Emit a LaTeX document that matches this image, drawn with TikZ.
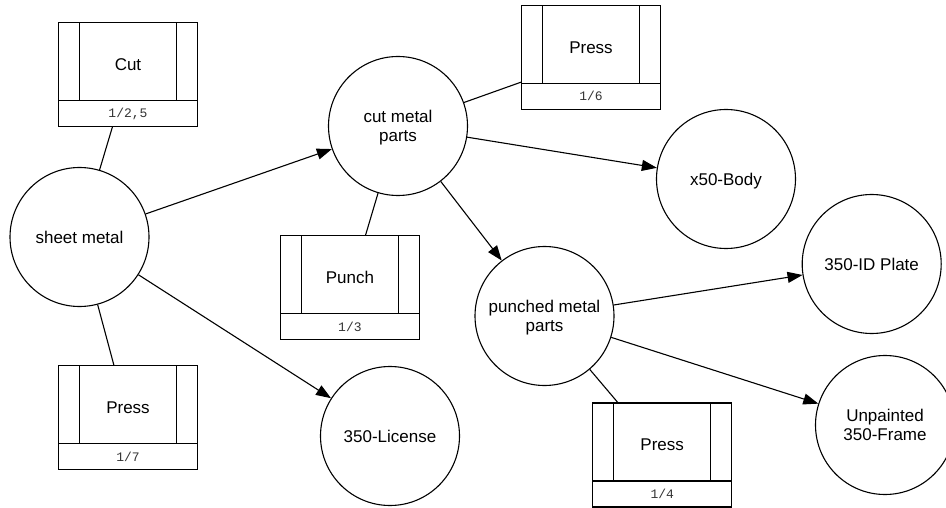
\documentclass[tikz,border=0pt]{standalone}
\usepackage{fontspec}
\setmainfont{Liberation Sans}
\setmonofont{Liberation Mono}
\usetikzlibrary{arrows.meta}

\begin{document}
\begin{tikzpicture}[x=1pt,y=-1pt,line width=1.1pt,
	item/.style={draw,circle,minimum size=139pt,inner sep=0pt,text depth=0pt,align=center,font=\fontsize{17}{19.5}\selectfont},
	proc/.style={draw,rectangle,minimum width=139pt,minimum height=104pt,inner sep=0pt,outer sep=0pt},
	flow/.style={-{Triangle[length=15pt,width=11pt]}}]
	\useasboundingbox (0,0) rectangle (946,508);
	% materials and products
	\node[item] (sheet) at (79.5,237) {sheet metal};
	\node[item] (cutparts) at (398,126) {cut metal\\parts};
	\node[item] (body) at (726,179) {x50-Body};
	\node[item] (punched) at (544.5,316) {punched metal\\parts};
	\node[item] (idplate) at (871.7,264) {350-ID Plate};
	\node[item] (license) at (390,436) {350-License};
	\node[item] (frame) at (885,425) {Unpainted\\350-Frame};
	% processes
	\node[proc] (cut) at (128,74.7) {};
	\node[proc] (presssheet) at (128,417.8) {};
	\node[proc] (punch) at (349.9,287.8) {};
	\node[proc] (presscut) at (591,57.3) {};
	\node[proc] (presspunched) at (662.2,455) {};
	\foreach \p/\t/\n in {cut/Cut/{1/2,5},presssheet/Press/{1/7},punch/Punch/{1/3},presscut/Press/{1/6},presspunched/Press/{1/4}} {
		\draw ([xshift=21pt]\p.north west) -- ([xshift=21pt,yshift=26pt]\p.south west);
		\draw ([xshift=-21pt]\p.north east) -- ([xshift=-21pt,yshift=26pt]\p.south east);
		\draw ([yshift=26pt]\p.south west) -- ([yshift=26pt]\p.south east);
		\node[font=\fontsize{17}{19.5}\selectfont] (\p-name) at ([yshift=10pt]\p.center) {\t};
		\node[font=\fontsize{13}{15}\ttfamily,text=black!80] (\p-runs) at ([yshift=13pt]\p.south) {\n};
	}
	% flows
	\draw[flow] (sheet) -- (cutparts);
	\draw[flow] (sheet) -- (license);
	\draw[flow] (cutparts) -- (body);
	\draw[flow] (cutparts) -- (punched);
	\draw[flow] (punched) -- (idplate);
	\draw[flow] (punched) -- (frame);
	% process links
	\draw (sheet) -- (cut);
	\draw (sheet) -- (presssheet);
	\draw (cutparts) -- (punch);
	\draw (cutparts) -- (presscut);
	\draw (punched) -- (presspunched);
\end{tikzpicture}
\end{document}
